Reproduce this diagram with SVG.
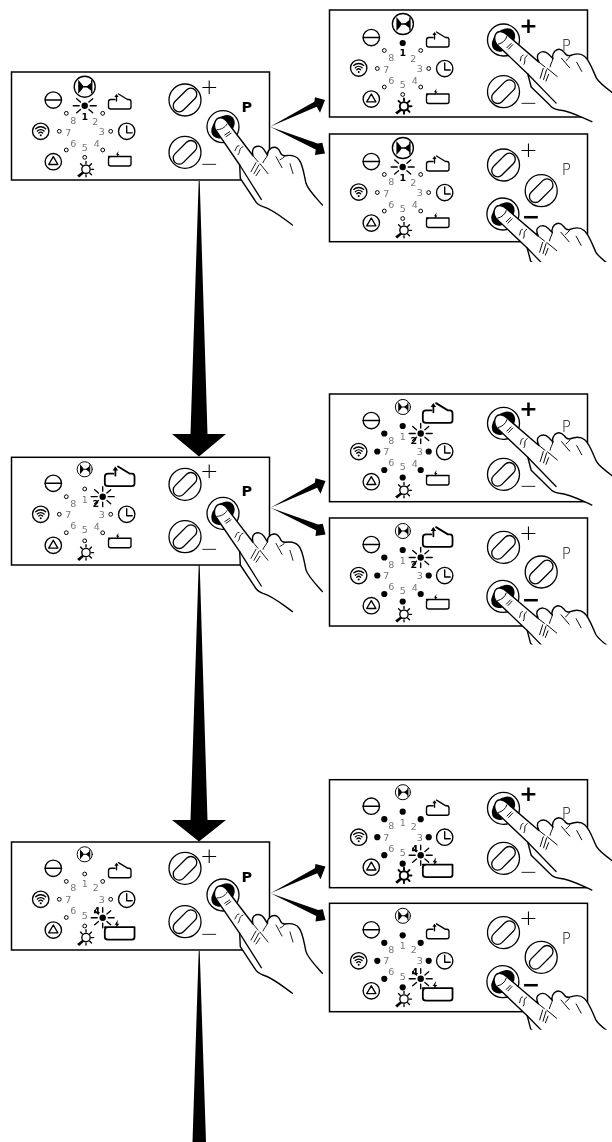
<svg xmlns="http://www.w3.org/2000/svg" width="612" height="1142" viewBox="0 0 612 1142">
<style>
.box{fill:#fff;stroke:#000;stroke-width:1.5}
.ic{fill:none;stroke:#000;stroke-width:1.35;stroke-linecap:round;stroke-linejoin:round}
.k{fill:#000;stroke:none}
text{filter:grayscale(1)}
.n{font:9.5px "DejaVu Sans",sans-serif;fill:#777;text-anchor:middle}
.b{font:bold 9.5px "DejaVu Sans",sans-serif;fill:#000;text-anchor:middle}
.s{font:200 22px "DejaVu Sans",sans-serif;fill:#000;text-anchor:middle}
.sb{font:bold 22px "DejaVu Sans",sans-serif;fill:#000;text-anchor:middle}
.p{font:200 15px "DejaVu Sans",sans-serif;fill:#000;text-anchor:middle}
.pb{font:bold 14.5px "DejaVu Sans",sans-serif;fill:#000;text-anchor:middle}
.hf{fill:#fff;stroke:#000;stroke-width:1.4;stroke-linejoin:round;stroke-linecap:round}
.hl{fill:none;stroke:#000;stroke-width:.9;stroke-linecap:round}
</style>
<defs>
<circle id="l" r="1.9" fill="#fff" stroke="#000" stroke-width="1"/>
<circle id="d" r="3.1" fill="#000"/>
<g id="rays" class="ic"><circle r="3.2" fill="#000" stroke="none"/><path d="M-11.5,0H-5.5M5.5,0H11.5M-8,-7L-4.2,-3.7M8,-7L4.2,-3.7M-8,7L-4.2,3.7M8,7L4.2,3.7"/></g>
<path id="raysv" class="ic" d="M0,-10V-5.5M0,5.5V10"/>
<g id="valve" class="ic"><circle r="10.5"/><path class="k" d="M-6.5,-7C-4,-4 -2,-2 -1,0C-2,2 -4,4 -6.5,7Z"/><path d="M-1,0H5"/><path class="k" d="M7,-4.5V4.5L1.5,0Z"/><path d="M7,-6V6" stroke-width="1.4"/></g>
<g id="minus" class="ic"><circle r="8.2"/><path d="M-8.2,0H8.2"/></g>
<g id="wifi" class="ic"><circle r="8.2"/><path d="M-5,-2.6A7.5,7.5 0 0 1 5,-2.6M-3.4,-.3A5,5 0 0 1 3.4,-.3M-1.9,1.7A2.8,2.8 0 0 1 1.9,1.7"/><circle cy="4" r="1" class="k"/></g>
<g id="tri" class="ic"><circle r="8.2"/><path d="M-4.6,2.8H4.6L0,-5Z"/></g>
<g id="clock" class="ic"><circle r="8.2"/><path d="M0,-5.5V1.5H5.5"/></g>
<g id="bulb" class="ic"><circle cx="1.3" cy="-.7" r="4.2"/><path d="M1.3,-8.5V-6.3M8.8,-.7H6.8M6.8,-6.2L5,-4.4M6.8,4.8L5,3M-4.2,-6.2L-2.4,-4.4M1.3,6.8V4.8"/><path class="k" d="M-2.2,1.4L-.6,3.2L-5.5,7.6L-7.6,5.6Z"/></g>
<g id="bulbb" class="ic" style="stroke-width:1.9"><circle cx="1.3" cy="-.7" r="4.2"/><path d="M1.3,-8.5V-6.3M8.8,-.7H6.8M6.8,-6.2L5,-4.4M6.8,4.8L5,3M-4.2,-6.2L-2.4,-4.4M1.3,6.8V4.8"/><path class="k" d="M-2.2,1.4L-.6,3.2L-5.5,7.6L-7.6,5.6Z"/></g>
<g id="boxup" class="ic"><path d="M-5,-3.5H-9Q-11.5,-3.5 -11.5,-1V4Q-11.5,6 -9,6H9Q11,6 11,4V-1Q11,-3.5 9,-3.5H7.5L-1.5,-9"/><path d="M-3.5,-2V-7.5"/><path class="k" d="M-3.5,-9L-1.4,-6H-5.6Z"/></g>
<g id="boxdn" class="ic"><path d="M-11.5,-3.5H11Q11,-3.5 11,-1V4Q11,6 9,6H-9Q-11.5,6 -11.5,4V-1Q-11.5,-3.5 -9,-3.5"/><path class="k" d="M-1.5,-9L-4,-5.2H-2.7L-3.5,-2.5L-.5,-6H-2Z"/></g>
<g id="knob"><circle r="16" fill="#fff" stroke="#000" stroke-width="1.3"/><rect x="-14.2" y="-6" width="28.4" height="12" rx="6" fill="#fff" stroke="#000" stroke-width="1.3" transform="rotate(-45)"/></g>
<g id="press"><circle r="16" fill="#fff" stroke="#000" stroke-width="1.3"/><ellipse rx="13.5" ry="9.5" fill="#000" transform="rotate(-45)"/></g>
<g id="hand">
<path class="hf" d="M69.4,98.3C58,90 50,83 40,80C37,79 33,76 31.7,73.3L17.3,51.7L16.7,38.3L-7.7,2.7C-10,-3 -7,-9 -2.7,-9C0.5,-9 3,-7 5,-3.7L30,29C29,25 29,23 31,21C35,18 39,20 41,23L44.5,28.5C44,25 46,23 48,21.5C52,19.5 55,21 57,25C58,28 60,29 62,29C68,28 73,29 76,33C80,38 81,48 83,56.6C85,63 92,70 99.4,78.3"/>
<path class="hl" style="stroke-width:1.3" d="M16.7,38.3L38.3,72.7"/>
<path class="hl" d="M-6,3C-2,3 2,1 4,-2.7M1.7,8.3L6.7,5M3,10L8,6.5M12,24C14,21 13,19 16,19M15,28C18,25 15,22 20,20M28,45L33,36M31,47L36,38M33,49L37,43M37,37L45,47M44.5,28.5C43,32 41,33 40,36M53,30L59,41M62,29C61,31 59,32 57,33M67,37L70,47M30,29L35,35"/>
</g>
<clipPath id="cb"><rect x="-40" y="-40" width="170" height="88"/></clipPath>
<polygon id="arr-up" points="0,0 44.3,-25 45,-29.4 55,-26.7 50,-14 46.7,-20"/>
<polygon id="arr-dn" points="0,0 47.7,16.7 52.3,16 55,26.7 45,28.3 45.7,22.7"/>
</defs>

<g id="connectors">
<polygon points="198.7,181 199.7,181 207.5,434 226,434 199,456.5 172,434 190.5,434"/>
<polygon points="198.7,565 199.7,565 207.5,820 226,820 199,841.5 172,820 190.5,820"/>
<polygon points="198.7,951 199.7,951 206,1142 192.5,1142"/>
<use href="#arr-up" x="270" y="126.7"/><use href="#arr-dn" x="270" y="126.7"/>
<use href="#arr-up" x="270.5" y="507.7"/><use href="#arr-dn" x="270.5" y="507.7"/>
<use href="#arr-up" x="270.5" y="893.3"/><use href="#arr-dn" x="270.5" y="893.3"/>
</g>

<!-- ROW 1 main -->
<g id="panel-1" transform="translate(11.5,72)">
<rect class="box" width="258" height="108"/>
<use href="#valve" x="73.2" y="14.7"/><use href="#minus" x="41.8" y="28"/><use href="#wifi" x="29.2" y="59.3"/><use href="#tri" x="41.8" y="89.7"/><use href="#bulb" x="73.2" y="98"/><use href="#clock" x="115.2" y="59.3"/><use href="#boxup" x="108.5" y="31"/><use href="#boxdn" x="108.5" y="88"/>
<use href="#rays" x="73.2" y="33.7"/><use href="#l" x="91.2" y="41.3"/><use href="#l" x="99.2" y="59.3"/><use href="#l" x="91.2" y="78"/><use href="#l" x="73.2" y="85.3"/><use href="#l" x="54.8" y="78"/><use href="#l" x="47.8" y="59.3"/><use href="#l" x="54.8" y="41.3"/>
<text class="b" x="73.2" y="48">1</text><text class="n" x="83.8" y="53">2</text><text class="n" x="90.2" y="63">3</text><text class="n" x="85.2" y="74.6">4</text><text class="n" x="73.2" y="78.6">5</text><text class="n" x="61.8" y="74.6">6</text><text class="n" x="56.8" y="63.6">7</text><text class="n" x="61.8" y="52">8</text>
<use href="#knob" x="173.5" y="28"/><use href="#knob" x="173.5" y="80.3"/>
<text class="s" x="197.8" y="21.6">+</text><text class="s" x="197.8" y="99">−</text><text class="pb" x="235.2" y="40">P</text>
<use href="#press" x="211.5" y="54.7"/><use href="#hand" transform="translate(211.5,54.7)"/>
</g>

<!-- ROW 1 a -->
<g id="panel-1a" transform="translate(329.5,10)">
<rect class="box" width="258" height="107"/>
<use href="#valve" x="73.4" y="14"/><use href="#minus" x="41.8" y="27.5"/><use href="#wifi" x="29.2" y="58"/><use href="#tri" x="41.8" y="89"/><use href="#bulbb" x="73.2" y="97"/><use href="#clock" x="115.2" y="58.5"/><use href="#boxup" x="108.5" y="31"/><use href="#boxdn" x="108.5" y="87.5"/>
<use href="#d" x="73.2" y="33"/><use href="#l" x="91.2" y="40.5"/><use href="#l" x="99.2" y="58.5"/><use href="#l" x="91.2" y="77"/><use href="#l" x="73.2" y="84.5"/><use href="#l" x="54.8" y="77"/><use href="#l" x="47.8" y="58.5"/><use href="#l" x="54.8" y="40.5"/>
<text class="b" x="73.2" y="46">1</text><text class="n" x="83.8" y="52">2</text><text class="n" x="90.2" y="62">3</text><text class="n" x="85.2" y="74">4</text><text class="n" x="73.2" y="78">5</text><text class="n" x="61.8" y="74">6</text><text class="n" x="56.8" y="62.5">7</text><text class="n" x="61.8" y="51">8</text>
<use href="#knob" x="174" y="81.7"/>
<text class="sb" x="199" y="22.6">+</text><text class="s" x="199" y="100">−</text><text class="p" x="236.7" y="40.5">P</text>
<use href="#press" x="174" y="30"/><use href="#hand" transform="translate(174,30) rotate(-12)"/>
</g>

<!-- ROW 1 b -->
<g id="panel-1b" transform="translate(329.5,134)">
<rect class="box" width="258" height="107.7"/>
<use href="#valve" x="73.4" y="14"/><use href="#minus" x="41.8" y="27.5"/><use href="#wifi" x="29.2" y="58"/><use href="#tri" x="41.8" y="89"/><use href="#bulb" x="73.2" y="97"/><use href="#clock" x="115.2" y="58.5"/><use href="#boxup" x="108.5" y="31"/><use href="#boxdn" x="108.5" y="87.5"/>
<use href="#rays" x="73.2" y="33"/><use href="#l" x="91.2" y="40.5"/><use href="#l" x="99.2" y="58.5"/><use href="#l" x="91.2" y="77"/><use href="#l" x="73.2" y="84.5"/><use href="#l" x="54.8" y="77"/><use href="#l" x="47.8" y="58.5"/><use href="#l" x="54.8" y="40.5"/>
<text class="b" x="73.2" y="46.5">1</text><text class="n" x="83.8" y="52">2</text><text class="n" x="90.2" y="62">3</text><text class="n" x="85.2" y="74">4</text><text class="n" x="73.2" y="78">5</text><text class="n" x="61.8" y="74">6</text><text class="n" x="56.8" y="62.5">7</text><text class="n" x="61.8" y="51">8</text>
<use href="#knob" x="174" y="31"/><use href="#knob" x="211.7" y="56.7"/>
<text class="s" x="199" y="22.6">+</text><text class="sb" x="201.4" y="89.5">−</text><text class="p" x="236.7" y="40.5">P</text>
<use href="#press" x="173.4" y="80"/><g transform="translate(173.4,80)" clip-path="url(#cb)"><use href="#hand" transform="rotate(-12)"/></g>
</g>

<!-- ROW 2 main -->
<g id="panel-2" transform="translate(11.5,457.3)">
<rect class="box" width="258" height="107.7"/>
<use href="#valve" transform="translate(73.2,12) scale(.72)"/><use href="#minus" x="41.8" y="26"/><use href="#wifi" x="29.2" y="57"/><use href="#tri" x="41.8" y="88"/><use href="#bulb" x="73.2" y="96"/><use href="#clock" x="115.2" y="57"/><use href="#boxup" transform="translate(108.5,21) scale(1.32)"/><use href="#boxdn" x="108.5" y="84.4"/>
<use href="#l" x="73.2" y="31.7"/><use href="#rays" x="91.2" y="39.4"/><use href="#raysv" x="91.2" y="39.4"/><use href="#l" x="99.2" y="57"/><use href="#l" x="91.2" y="75.5"/><use href="#l" x="73.2" y="83.5"/><use href="#l" x="54.8" y="75.4"/><use href="#l" x="47.8" y="57"/><use href="#l" x="54.8" y="39.4"/>
<text class="n" x="73.2" y="45.4">1</text><text class="b" x="84.2" y="49.4">2</text><text class="n" x="90.2" y="60.4">3</text><text class="n" x="85.2" y="72.4">4</text><text class="n" x="73.2" y="76">5</text><text class="n" x="61.8" y="71.6">6</text><text class="n" x="56.8" y="60.4">7</text><text class="n" x="61.8" y="49.4">8</text>
<use href="#knob" x="173.5" y="27"/><use href="#knob" x="173.5" y="79.4"/>
<text class="s" x="197.8" y="20.6">+</text><text class="s" x="197.8" y="98.6">−</text><text class="pb" x="235.2" y="38.8">P</text>
<use href="#press" x="211.5" y="56"/><use href="#hand" transform="translate(211.5,56)"/>
</g>

<!-- ROW 2 a -->
<g id="panel-2a" transform="translate(329.5,394)">
<rect class="box" width="258" height="107.7"/>
<use href="#valve" transform="translate(73.4,13) scale(.72)"/><use href="#minus" x="41.8" y="26.5"/><use href="#wifi" x="29.2" y="57.5"/><use href="#tri" x="41.8" y="87.7"/><use href="#bulb" x="73.2" y="97"/><use href="#clock" x="115.2" y="57.5"/><use href="#boxup" transform="translate(108.5,21) scale(1.32)"/><use href="#boxdn" x="108.5" y="85"/>
<use href="#d" x="73.2" y="32"/><use href="#rays" x="91.2" y="39.5"/><use href="#raysv" x="91.2" y="39.5"/><use href="#d" x="99.2" y="57.5"/><use href="#d" x="91.2" y="76"/><use href="#d" x="73.2" y="83.5"/><use href="#d" x="54.8" y="76"/><use href="#d" x="47.8" y="57.5"/><use href="#d" x="54.8" y="39.5"/>
<text class="n" x="73.2" y="46">1</text><text class="b" x="84.2" y="50">2</text><text class="n" x="90.2" y="61">3</text><text class="n" x="85.2" y="72.5">4</text><text class="n" x="73.2" y="76">5</text><text class="n" x="61.8" y="72">6</text><text class="n" x="56.8" y="61">7</text><text class="n" x="61.8" y="49.5">8</text>
<use href="#knob" x="174" y="80.3"/>
<text class="sb" x="199" y="22">+</text><text class="s" x="199" y="98.6">−</text><text class="p" x="236.7" y="38.2">P</text>
<use href="#press" x="174" y="29.3"/><use href="#hand" transform="translate(174,29.3) rotate(-12)"/>
</g>

<!-- ROW 2 b -->
<g id="panel-2b" transform="translate(329.5,518)">
<rect class="box" width="258" height="108"/>
<use href="#valve" transform="translate(73.4,13) scale(.72)"/><use href="#minus" x="41.8" y="26.5"/><use href="#wifi" x="29.2" y="57.5"/><use href="#tri" x="41.8" y="87.7"/><use href="#bulb" x="73.2" y="97"/><use href="#clock" x="115.2" y="57.5"/><use href="#boxup" transform="translate(108.5,21) scale(1.32)"/><use href="#boxdn" x="108.5" y="85"/>
<use href="#d" x="73.2" y="32"/><use href="#rays" x="91.2" y="39.5"/><use href="#raysv" x="91.2" y="39.5"/><use href="#d" x="99.2" y="57.5"/><use href="#d" x="91.2" y="76"/><use href="#d" x="73.2" y="83.5"/><use href="#d" x="54.8" y="76"/><use href="#d" x="47.8" y="57.5"/><use href="#d" x="54.8" y="39.5"/>
<text class="n" x="73.2" y="46">1</text><text class="b" x="84.2" y="50">2</text><text class="n" x="90.2" y="61">3</text><text class="n" x="85.2" y="72.5">4</text><text class="n" x="73.2" y="76">5</text><text class="n" x="61.8" y="72">6</text><text class="n" x="56.8" y="61">7</text><text class="n" x="61.8" y="49.5">8</text>
<use href="#knob" x="174" y="29.3"/><use href="#knob" x="211.7" y="54"/>
<text class="s" x="199" y="22">+</text><text class="sb" x="201.4" y="88.5">−</text><text class="p" x="236.7" y="41">P</text>
<use href="#press" x="173.4" y="78.4"/><g transform="translate(173.4,78.4)" clip-path="url(#cb)"><use href="#hand" transform="rotate(-12)"/></g>
</g>

<!-- ROW 3 main -->
<g id="panel-3" transform="translate(11.5,842)">
<rect class="box" width="258" height="108"/>
<use href="#valve" transform="translate(73.2,12.3) scale(.72)"/><use href="#minus" x="41.8" y="26.3"/><use href="#wifi" x="29.2" y="57.3"/><use href="#tri" x="41.8" y="88"/><use href="#bulb" x="73.2" y="96.3"/><use href="#clock" x="115.2" y="57.3"/><use href="#boxup" x="108.5" y="29.7"/><use href="#boxdn" transform="translate(108.5,89.7) scale(1.32)"/>
<use href="#l" x="73.2" y="32"/><use href="#l" x="91.2" y="39.4"/><use href="#l" x="99.2" y="57.3"/><use href="#rays" x="91.2" y="75.7"/><use href="#raysv" x="91.2" y="75.7"/><use href="#l" x="73.2" y="84"/><use href="#l" x="54.8" y="75.5"/><use href="#l" x="47.8" y="57.3"/><use href="#l" x="54.8" y="39.4"/>
<text class="n" x="73.2" y="45.4">1</text><text class="n" x="84.2" y="49.4">2</text><text class="n" x="90.2" y="60.7">3</text><text class="b" x="85.2" y="72">4</text><text class="n" x="73.2" y="76.5">5</text><text class="n" x="61.8" y="71.6">6</text><text class="n" x="56.8" y="60.7">7</text><text class="n" x="61.8" y="49.4">8</text>
<use href="#knob" x="173.5" y="26.3"/><use href="#knob" x="173.5" y="79.7"/>
<text class="s" x="197.8" y="20.9">+</text><text class="s" x="197.8" y="99.2">−</text><text class="pb" x="235.2" y="40">P</text>
<use href="#press" x="211.5" y="53"/><use href="#hand" transform="translate(211.5,53)"/>
</g>

<!-- ROW 3 a -->
<g id="panel-3a" transform="translate(329.5,779.7)">
<rect class="box" width="258" height="108"/>
<use href="#valve" transform="translate(73.4,12.5) scale(.72)"/><use href="#minus" x="41.8" y="26.5"/><use href="#wifi" x="29.2" y="57.5"/><use href="#tri" x="41.8" y="87.5"/><use href="#bulbb" x="73.2" y="96.5"/><use href="#clock" x="115.2" y="57.5"/><use href="#boxup" x="108.5" y="29.5"/><use href="#boxdn" transform="translate(108.5,89.5) scale(1.32)"/>
<use href="#d" x="73.2" y="32"/><use href="#d" x="91.2" y="39.5"/><use href="#d" x="99.2" y="57.5"/><use href="#rays" x="91.2" y="75.5"/><use href="#raysv" x="91.2" y="75.5"/><use href="#d" x="73.2" y="84"/><use href="#d" x="54.8" y="75.5"/><use href="#d" x="47.8" y="57.5"/><use href="#d" x="54.8" y="39.5"/>
<text class="n" x="73.2" y="46">1</text><text class="n" x="84.2" y="50">2</text><text class="n" x="90.2" y="61">3</text><text class="b" x="85.2" y="72">4</text><text class="n" x="73.2" y="76.5">5</text><text class="n" x="61.8" y="72">6</text><text class="n" x="56.8" y="61">7</text><text class="n" x="61.8" y="49.5">8</text>
<use href="#knob" x="174" y="78.6"/>
<text class="sb" x="199" y="21.2">+</text><text class="s" x="199" y="99">−</text><text class="p" x="236.7" y="39">P</text>
<use href="#press" x="174" y="28.6"/><use href="#hand" transform="translate(174,28.6) rotate(-12)"/>
</g>

<!-- ROW 3 b -->
<g id="panel-3b" transform="translate(329.5,903.3)">
<rect class="box" width="258" height="108.4"/>
<use href="#valve" transform="translate(73.4,12.5) scale(.72)"/><use href="#minus" x="41.8" y="26.5"/><use href="#wifi" x="29.2" y="57.5"/><use href="#tri" x="41.8" y="87.5"/><use href="#bulb" x="73.2" y="96.5"/><use href="#clock" x="115.2" y="57.5"/><use href="#boxup" x="108.5" y="29.5"/><use href="#boxdn" transform="translate(108.5,89.5) scale(1.32)"/>
<use href="#d" x="73.2" y="32"/><use href="#d" x="91.2" y="39.5"/><use href="#d" x="99.2" y="57.5"/><use href="#rays" x="91.2" y="75.5"/><use href="#raysv" x="91.2" y="75.5"/><use href="#d" x="73.2" y="84"/><use href="#d" x="54.8" y="75.5"/><use href="#d" x="47.8" y="57.5"/><use href="#d" x="54.8" y="39.5"/>
<text class="n" x="73.2" y="46">1</text><text class="n" x="84.2" y="50">2</text><text class="n" x="90.2" y="61">3</text><text class="b" x="85.2" y="72">4</text><text class="n" x="73.2" y="76.5">5</text><text class="n" x="61.8" y="72">6</text><text class="n" x="56.8" y="61">7</text><text class="n" x="61.8" y="49.5">8</text>
<use href="#knob" x="174" y="29.3"/><use href="#knob" x="211.7" y="54"/>
<text class="s" x="199" y="22">+</text><text class="sb" x="201.4" y="88.5">−</text><text class="p" x="236.7" y="41">P</text>
<use href="#press" x="173.4" y="78.4"/><g transform="translate(173.4,78.4)" clip-path="url(#cb)"><use href="#hand" transform="rotate(-12)"/></g>
</g>
</svg>
